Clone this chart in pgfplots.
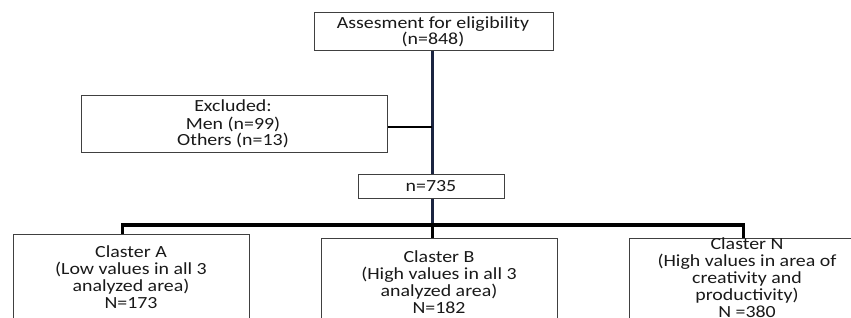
\documentclass[border=0pt]{standalone}
\usepackage{pgfplots}
\pgfplotsset{compat=1.18}
\usepackage{fontspec}
\setmainfont{Carlito}[FakeStretch=1.17]
\definecolor{navy}{HTML}{1B2440}
\definecolor{boxgray}{HTML}{404040}
\tikzset{txt/.style={font=\fontsize{17}{17}\selectfont, inner sep=0pt, anchor=base, text=black!90}}
\begin{document}
\begin{tikzpicture}
\begin{axis}[
  width=851pt, height=318pt, scale only axis,
  xmin=0, xmax=851, ymin=0, ymax=318, y dir=reverse,
  axis lines=none, clip=true,
]
% connectors
\addplot[navy, line width=3pt] coordinates {(432,51) (432,226)};
\addplot[black, line width=2pt] coordinates {(387,127) (432,127)};
\addplot[black, line width=4pt] coordinates {(122,225) (743,225)};
\addplot[black, line width=3pt] coordinates {(122,223) (122,234)};
\addplot[black, line width=3pt] coordinates {(432,223) (432,238)};
\addplot[black, line width=3pt] coordinates {(743,223) (743,238)};
% boxes
\addplot[boxgray, line width=1pt, fill=white] coordinates {(314,13) (553,13) (553,51) (314,51) (314,13)};
\addplot[boxgray, line width=1pt, fill=white] coordinates {(81,96) (387,96) (387,152) (81,152) (81,96)};
\addplot[boxgray, line width=1pt, fill=white] coordinates {(358,174) (504,174) (504,198) (358,198) (358,174)};
\addplot[boxgray, line width=1pt] coordinates {(13,318) (13,234) (249,234) (249,318)};
\addplot[boxgray, line width=1pt] coordinates {(321,318) (321,238) (557,238) (557,318)};
\addplot[boxgray, line width=1pt] coordinates {(629,318) (629,238) (851,238)};
% texts
\node[txt] at (axis cs:433,29) {Assesment for eligibility};
\node[txt] at (axis cs:433,45) {(n=848)};
\node[txt] at (axis cs:233,112) {Excluded:};
\node[txt] at (axis cs:233,129) {Men (n=99)};
\node[txt] at (axis cs:233,146) {Others (n=13)};
\node[txt] at (axis cs:431,191) {n=735};
\node[txt] at (axis cs:131,257) {Claster A};
\node[txt] at (axis cs:131,274) {(Low values in all 3};
\node[txt] at (axis cs:131,291) {analyzed area)};
\node[txt] at (axis cs:131,308) {N=173};
\node[txt] at (axis cs:439,262) {Claster B};
\node[txt] at (axis cs:439,279) {(High values in all 3};
\node[txt] at (axis cs:439,296) {analyzed area)};
\node[txt] at (axis cs:439,313) {N=182};
\node[txt] at (axis cs:747,249) {Claster N};
\node[txt] at (axis cs:747,266) {(High values in area of};
\node[txt] at (axis cs:747,283) {creativity and};
\node[txt] at (axis cs:747,300) {productivity)};
\node[txt] at (axis cs:747,317) {N =380};
\end{axis}
\pgfresetboundingbox
\path[use as bounding box] (current axis.south west) rectangle (current axis.north east);
\end{tikzpicture}
\end{document}
